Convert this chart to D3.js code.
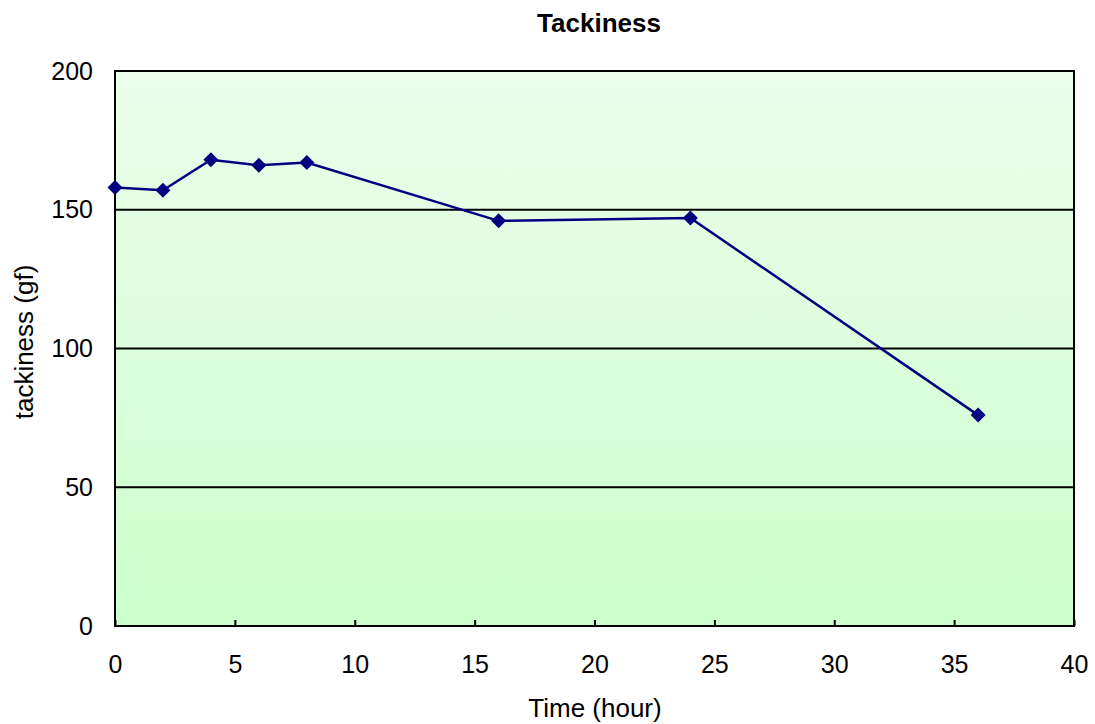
<!DOCTYPE html>
<html>
<head>
<meta charset="utf-8">
<script src="https://cdn.jsdelivr.net/npm/d3@7"></script>
<style>
  html, body { margin: 0; padding: 0; background: #ffffff; }
  text { font-family: "Liberation Sans", Arial, sans-serif; fill: #000; }
</style>
</head>
<body>
<svg id="chart" width="1095" height="724"></svg>
<script>
// Tackiness measurements over time
const hours = [0, 2, 4, 6, 8, 16, 24, 36];
const tackiness = [158, 157, 168, 166, 167, 146, 147, 76];
const xTicks = [0, 5, 10, 15, 20, 25, 30, 35, 40];
const yTicks = [0, 50, 100, 150, 200];

const svg = d3.select("#chart");
const m = { left: 115, right: 1074, top: 71, bottom: 626 };

const x = d3.scaleLinear().domain([0, 40]).range([m.left, m.right]);
const y = d3.scaleLinear().domain([0, 200]).range([m.bottom, m.top]);

// Plot area background gradient
const defs = svg.append("defs");
const grad = defs.append("linearGradient").attr("id", "bg")
  .attr("x1", 0).attr("y1", 0).attr("x2", 0).attr("y2", 1);
grad.append("stop").attr("offset", "0%").attr("stop-color", "#ecfdec");
grad.append("stop").attr("offset", "100%").attr("stop-color", "#ccffcc");

svg.append("rect")
  .attr("x", m.left).attr("y", m.top)
  .attr("width", m.right - m.left).attr("height", m.bottom - m.top)
  .attr("fill", "url(#bg)");

// Horizontal gridlines
svg.append("g").selectAll("line")
  .data(yTicks.filter(d => d > 0 && d < 200))
  .join("line")
  .attr("x1", m.left).attr("x2", m.right)
  .attr("y1", d => y(d)).attr("y2", d => y(d))
  .attr("stroke", "#000").attr("stroke-width", 2);

// Plot frame
svg.append("rect")
  .attr("x", m.left).attr("y", m.top)
  .attr("width", m.right - m.left).attr("height", m.bottom - m.top)
  .attr("fill", "none").attr("stroke", "#000").attr("stroke-width", 2);

// X axis (ticks pointing inward)
const xAxis = d3.axisBottom(x).tickValues(xTicks).tickSize(-6).tickPadding(29).tickFormat(d3.format("d"));
const gx = svg.append("g").attr("transform", `translate(0,${m.bottom})`).call(xAxis);
gx.select(".domain").remove();
gx.selectAll(".tick line").attr("stroke", "#000").attr("stroke-width", 2);
gx.selectAll(".tick text").attr("font-size", 25).attr("dy", "0.71em");

// Y axis
const yAxis = d3.axisLeft(y).tickValues(yTicks).tickSize(0).tickPadding(22).tickFormat(d3.format("d"));
const gy = svg.append("g").attr("transform", `translate(${m.left},0)`).call(yAxis);
gy.select(".domain").remove();
gy.selectAll(".tick text").attr("font-size", 25);

// Series line
const line = d3.line().x((d, i) => x(hours[i])).y(d => y(d));
svg.append("path")
  .datum(tackiness)
  .attr("d", line)
  .attr("fill", "none")
  .attr("stroke", "#000080")
  .attr("stroke-width", 2.5);

// Diamond markers
svg.append("g").selectAll("path")
  .data(tackiness)
  .join("path")
  .attr("transform", (d, i) => `translate(${x(hours[i])},${y(d)})`)
  .attr("d", "M0,-7.5L7.5,0L0,7.5L-7.5,0Z")
  .attr("fill", "#000080");

// Titles
svg.append("text")
  .attr("x", 599).attr("y", 32)
  .attr("text-anchor", "middle")
  .attr("font-size", 26).attr("font-weight", "bold")
  .text("Tackiness");

svg.append("text")
  .attr("x", 595).attr("y", 717)
  .attr("text-anchor", "middle")
  .attr("font-size", 26)
  .text("Time (hour)");

svg.append("text")
  .attr("transform", "translate(33,342) rotate(-90)")
  .attr("text-anchor", "middle")
  .attr("font-size", 26)
  .text("tackiness (gf)");
</script>
</body>
</html>
